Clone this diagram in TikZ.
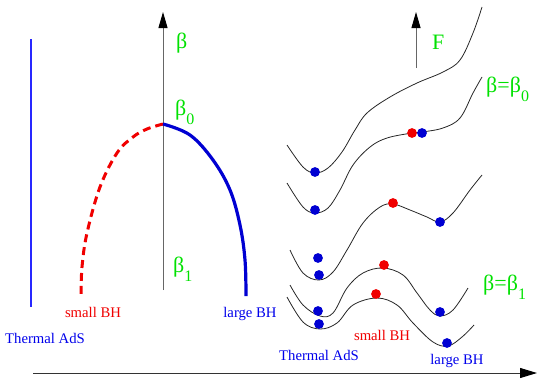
\documentclass[tikz,border=0pt]{standalone}
\usepackage{fontspec}
\setmainfont{Liberation Serif}
\usetikzlibrary{arrows.meta}
\definecolor{lgreen}{RGB}{0,225,0}
\definecolor{dblue}{RGB}{0,0,210}
\definecolor{tblue}{RGB}{0,0,235}
\definecolor{lineblue}{RGB}{40,40,255}
\definecolor{bred}{RGB}{240,0,0}
\newcommand{\lowsub}[1]{\raisebox{-9pt}{\fontsize{16}{16}\selectfont #1}}
\begin{document}
\begin{tikzpicture}[x=1pt,y=-1pt,
  lbl/.style={font=\fontsize{14.7}{16}\selectfont, inner sep=0pt, anchor=base},
  glbl/.style={text=lgreen, font=\fontsize{22}{24}\selectfont, inner sep=0pt, anchor=base west},
  pot/.style={black!85, line width=0.8pt},
  bdot/.style={circle, fill=dblue, inner sep=0pt, minimum size=9.8pt},
  rdot/.style={circle, fill=bred, inner sep=0pt, minimum size=9.8pt},
  ax/.style={draw=black!60, line width=1pt, -{Triangle[length=16pt,width=9pt,color=black]}}
]
\useasboundingbox (0,0) rectangle (545,383);
% axes
\coordinate (vb) at (163,290); \coordinate (vt) at (163,12);
\draw[ax] (vb) -- (vt);
\coordinate (hb) at (33,373); \coordinate (ht) at (537,373);
\draw[ax, draw=black!80, -{Triangle[length=17pt,width=10pt,color=black]}] (hb) -- (ht);
\coordinate (fb) at (416,68); \coordinate (ft) at (416,12);
\draw[ax] (fb) -- (ft);
% thermal AdS line
\coordinate (ta) at (31,39); \coordinate (tb) at (31,307);
\draw[lineblue, line width=1.3pt] (ta) -- (tb);
% small BH branch
\draw[bred, line width=3pt, dash pattern=on 8pt off 5pt]
  plot[smooth, tension=0.6] coordinates {(163,124) (147,129) (133,137) (117,153) (100,187) (87,233) (82,267) (81,296)};
% large BH branch
\draw[dblue, line width=3.2pt]
  plot[smooth, tension=0.6] coordinates {(163,124) (190,135) (213,160) (230,190) (240,225) (245,260) (246,296)};
% left labels
\node[lbl, text=bred] (lsbh) at (93,317) {small BH};
\node[lbl, text=tblue] (llbh) at (250,317) {large BH};
\node[lbl, text=tblue] (ltads) at (45,343) {Thermal AdS};
\node[glbl] (lbeta) at (176,48) {β};
\node[glbl] (lbeta0) at (175,115) {β\lowsub{0}};
\node[glbl] (lbeta1) at (173,272) {β\lowsub{1}};
% potential curves
\draw[pot] plot[smooth, tension=0.6] coordinates {(287,145) (303,167) (315,173) (328,168) (342,152) (355,130) (367,113) (390,97) (417,83) (443,72) (460,60) (473,33) (482,7)};
\draw[pot] plot[smooth, tension=0.6] coordinates {(287,183) (303,207) (315,213) (328,208) (340,190) (353,165) (370,147) (387,138) (412,133) (422,132) (443,128) (460,118) (473,93) (482,77)};
\draw[pot] plot[smooth, tension=0.6] coordinates {(290,250) (303,273) (319,280) (333,272) (347,250) (363,223) (380,207) (393,204) (410,210) (427,217) (440,222) (453,213) (470,190) (482,175)};
\draw[pot] plot[smooth, tension=0.6] coordinates {(290,285) (303,305) (320,316) (333,313) (347,288) (363,273) (383,268) (403,275) (417,293) (430,310) (440,316) (453,310) (468,288)};
\draw[pot] plot[smooth, tension=0.6] coordinates {(287,297) (303,322) (320,329) (337,323) (353,305) (377,298) (397,305) (413,323) (433,342) (448,346) (462,337) (474,325)};
% dots
\node[rdot] (r1) at (412,133) {};
\node[rdot] (r2) at (393,203) {};
\node[rdot] (r3) at (384,265) {};
\node[rdot] (r4) at (376,294) {};
\node[bdot] (b1) at (315,172) {};
\node[bdot] (b2) at (422,133) {};
\node[bdot] (b3) at (315,210) {};
\node[bdot] (b4) at (318,258) {};
\node[bdot] (b5) at (319,275) {};
\node[bdot] (b6) at (440,222) {};
\node[bdot] (b7) at (318,311) {};
\node[bdot] (b8) at (440,312) {};
\node[bdot] (b9) at (319,324) {};
\node[bdot] (b10) at (447,343) {};
% right labels
\node[glbl] (fl) at (432,49) {F};
\node[glbl] (bb0) at (486,92) {β=β\lowsub{0}};
\node[glbl] (bb1) at (483,290) {β=β\lowsub{1}};
\node[lbl, text=bred] (rsbh) at (382,340) {small BH};
\node[lbl, text=tblue] (rtads) at (319,360) {Thermal AdS};
\node[lbl, text=tblue] (rlbh) at (457,364) {large BH};
\end{tikzpicture}
\end{document}
